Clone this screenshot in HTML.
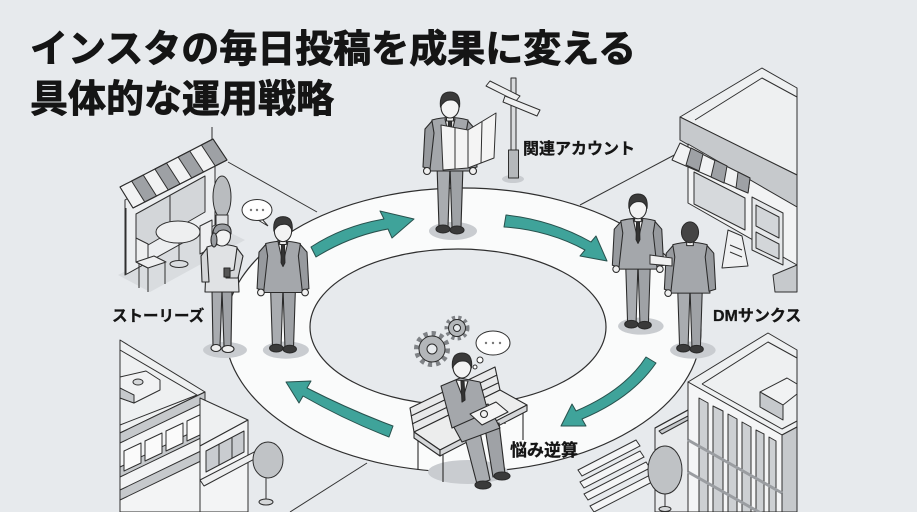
<!DOCTYPE html>
<html><head><meta charset="utf-8">
<style>
html,body{margin:0;padding:0;background:#e7eaed;}
svg{display:block;}
.t{font-family:"Liberation Sans","Noto Sans CJK JP",sans-serif;font-weight:bold;fill:#151515;}
.tt{stroke:#151515;stroke-width:0.9;stroke-linejoin:round;}
.tl{stroke:#151515;stroke-width:0.3;}
</style></head><body>
<svg width="917" height="512" viewBox="0 0 917 512" xmlns="http://www.w3.org/2000/svg">
<defs>
<g id="man" stroke="#2a2a2a" stroke-width="1.1" stroke-linejoin="round">
 <ellipse cx="3" cy="-2" rx="24" ry="9" fill="#c9ccd0" stroke="none"/>
 <polygon points="-13,-68 0,-68 -2,-6 -11,-6" fill="#a9acb0"/>
 <polygon points="0,-68 13,-68 11,-6 2,-6" fill="#9fa2a6"/>
 <ellipse cx="-7" cy="-4" rx="7" ry="4" fill="#3a3a3a"/>
 <ellipse cx="7" cy="-3" rx="7" ry="4" fill="#3a3a3a"/>
 <path d="M-18,-113 Q0,-118 18,-113 L21,-62 L-21,-62 Z" fill="#a4a7ab"/>
 <polygon points="-5,-114 5,-114 0,-92" fill="#f4f4f4"/>
 <polygon points="-1.5,-112 1.5,-112 2,-93 0,-89 -2,-93" fill="#333"/>
 <polygon points="-18,-112 -25,-104 -27,-66 -20,-64 -16,-100" fill="#979a9e"/>
 <polygon points="18,-112 25,-104 27,-66 20,-64 16,-100" fill="#979a9e"/>
 <circle cx="-23" cy="-62" r="3.5" fill="#f0f0f0"/>
 <circle cx="23" cy="-62" r="3.5" fill="#f0f0f0"/>
 <rect x="-3.5" y="-118" width="7" height="6" fill="#f0f0f0"/>
 <ellipse cx="0" cy="-126" rx="9" ry="11" fill="#f3f3f3"/>
 <path d="M-9.5,-126 Q-11,-141 0,-141 Q11,-141 9.5,-126 Q7,-134 0,-133 Q-6,-133 -9.5,-126 Z" fill="#3a3a3a"/>
</g>
<g id="manb" stroke="#2a2a2a" stroke-width="1.1" stroke-linejoin="round">
 <ellipse cx="3" cy="-2" rx="24" ry="9" fill="#c9ccd0" stroke="none"/>
 <polygon points="-13,-68 0,-68 -2,-6 -11,-6" fill="#a9acb0"/>
 <polygon points="0,-68 13,-68 11,-6 2,-6" fill="#9fa2a6"/>
 <ellipse cx="-7" cy="-4" rx="7" ry="4" fill="#3a3a3a"/>
 <ellipse cx="7" cy="-3" rx="7" ry="4" fill="#3a3a3a"/>
 <path d="M-18,-113 Q0,-118 18,-113 L21,-62 L-21,-62 Z" fill="#a4a7ab"/>
 <polygon points="-18,-112 -25,-104 -27,-66 -20,-64 -16,-100" fill="#979a9e"/>
 <polygon points="18,-112 25,-104 27,-66 20,-64 16,-100" fill="#979a9e"/>
 <circle cx="-23" cy="-62" r="3.5" fill="#f0f0f0"/>
 <rect x="-3.5" y="-118" width="7" height="6" fill="#f0f0f0"/>
 <ellipse cx="0" cy="-126" rx="9" ry="11" fill="#444"/>
</g>
<g id="wom" stroke="#2a2a2a" stroke-width="1.1" stroke-linejoin="round">
 <ellipse cx="3" cy="-2" rx="22" ry="8" fill="#c9ccd0" stroke="none"/>
 <polygon points="-10,-62 0,-62 -2,-6 -9,-6" fill="#a9acb0"/>
 <polygon points="0,-62 10,-62 9,-6 2,-6" fill="#a0a3a7"/>
 <ellipse cx="-6" cy="-4" rx="5" ry="3.5" fill="#eeeeee"/>
 <ellipse cx="6" cy="-3" rx="6" ry="3.5" fill="#eeeeee"/>
 <path d="M-15,-105 Q0,-110 15,-105 L17,-60 L-17,-60 Z" fill="#e0e2e4"/>
 <polygon points="-15,-104 -21,-96 -20,-70 -13,-70" fill="#d4d6d8"/>
 <polygon points="15,-104 21,-96 16,-74 4,-74 4,-80 12,-82" fill="#d4d6d8"/>
 <rect x="2" y="-84" width="6" height="9" fill="#555"/>
 <ellipse cx="0" cy="-116" rx="8.5" ry="10" fill="#f3f3f3"/>
 <path d="M-9,-115 Q-10,-128 0,-128 Q10,-128 9,-118 Q4,-124 -3,-121 Q-6,-118 -9,-115 Z" fill="#9a9da1"/>
 <ellipse cx="-8" cy="-112" rx="3" ry="7" fill="#9a9da1"/>
</g>
</defs>

<rect width="917" height="512" fill="#e7eaed"/>

<!-- street lines -->
<g stroke="#333" stroke-width="1" fill="none">
 <line x1="228" y1="162" x2="317" y2="212"/>
 <line x1="680" y1="152" x2="580" y2="205"/>
 <line x1="367" y1="463" x2="290" y2="512"/>
</g>

<!-- ring -->
<ellipse cx="463" cy="330" rx="238" ry="142" fill="#fafbfb" stroke="#2f2f2f" stroke-width="1.2"/>
<ellipse cx="458" cy="327" rx="148" ry="78" fill="#e7eaed" stroke="#2f2f2f" stroke-width="1.2"/>

<!-- crosswalk -->
<g fill="#f4f5f6" stroke="#333" stroke-width="1">
 <polygon points="578,470 636,440 640,446 582,476"/>
 <polygon points="580,482 640,451 644,457 584,488"/>
 <polygon points="584,494 646,462 650,468 588,500"/>
 <polygon points="590,506 652,474 656,480 594,512"/>
</g>

<!-- cafe top-left -->
<g stroke="#2f2f2f" stroke-width="1" stroke-linejoin="round">
 <polygon points="118,275 215,225 245,240 150,292" fill="#d9dcdf" stroke="none"/>
 <polygon points="125,200 215,150 215,225 125,275" fill="#eceef0"/>
 <polygon points="136,214 205,176 205,212 136,252" fill="#d3d6d9"/>
 <line x1="170" y1="195" x2="170" y2="232"/>
 <polygon points="120,187 213,139 227,160 133,208" fill="#f1f2f3"/>
 <polygon points="131.6,181 143.25,175 156.5,196 144.75,202" fill="#9ea1a5"/>
 <polygon points="154.9,169 166.5,163 180,184 168.25,190" fill="#9ea1a5"/>
 <polygon points="178.1,157 189.75,151 203.5,172 191.75,178" fill="#9ea1a5"/>
 <polygon points="201.4,145 213,139 227,160 215.25,166" fill="#9ea1a5"/>
 <polygon points="120,187 213,139 227,160 133,208" fill="none"/>
 <line x1="212" y1="127" x2="212" y2="140"/>
 <line x1="126" y1="208" x2="126" y2="274"/>
 <ellipse cx="222" cy="197" rx="9" ry="21" fill="#b9bcbf"/>
 <rect x="216" y="215" width="12" height="12" fill="#e0e2e4"/>
 <polygon points="200,226 212,220 212,248 200,254" fill="#eeeff0"/>
 <line x1="202" y1="254" x2="202" y2="266"/>
 <line x1="211" y1="248" x2="211" y2="260"/>
 <line x1="179" y1="242" x2="179" y2="262"/>
 <ellipse cx="179" cy="264" rx="9" ry="3.5" fill="#d9dcdf"/>
 <ellipse cx="178" cy="232" rx="22" ry="11" fill="#eeeff0"/>
 <polygon points="136,238 148,244 148,268 136,262" fill="#eeeff0"/>
 <polygon points="136,262 148,268 166,262 154,256" fill="#eeeff0"/>
 <line x1="139" y1="264" x2="139" y2="288"/>
 <line x1="148" y1="268" x2="148" y2="292"/>
 <line x1="165" y1="263" x2="165" y2="284"/>
</g>

<!-- store top-right -->
<g stroke="#2f2f2f" stroke-width="1" stroke-linejoin="round">
 <polygon points="680,117 762,68 797,88 797,175" fill="#eef0f1"/>
 <polyline points="695,120 762,78 797,97" fill="none"/>
 <polygon points="680,117 797,175 797,207 680,140" fill="#c6c9cc"/>
 <polygon points="688,144 797,207 797,265 688,203" fill="#f2f3f4"/>
 <polygon points="694,172 745,198 745,230 694,204" fill="#d6d9dc"/>
 <polygon points="680,143 750,178 748,193 672,160" fill="#f1f2f3"/>
 <polygon points="691,148 703,154 699,171 686,165" fill="#9ea1a5"/>
 <polygon points="715,160 727,166 724,183 711,177" fill="#9ea1a5"/>
 <polygon points="738,172 750,178 748,193 736,188" fill="#9ea1a5"/>
 <polygon points="752,197 783,213 783,265 752,250" fill="#e6e8ea"/>
 <polygon points="756,205 779,217 779,238 756,226" fill="#d3d6d9"/>
 <polygon points="756,232 779,244 779,259 756,248" fill="#d3d6d9"/>
 <polygon points="722,268 728,230 742,236 748,266" fill="#f0f1f2"/>
 <line x1="730" y1="245" x2="742" y2="250"/>
 <line x1="730" y1="252" x2="742" y2="257"/>
 <polygon points="773,275 797,265 797,292 775,292" fill="#c6c9cc"/>
</g>

<!-- signpost -->
<g stroke="#2f2f2f" stroke-width="1" stroke-linejoin="round">
 <ellipse cx="513" cy="179" rx="11" ry="4" fill="#c9ccd0" stroke="none"/>
 <rect x="511" y="78" width="5" height="100" fill="#d9dbdd"/>
 <rect x="508.5" y="150" width="10" height="28" fill="#b5b8bb"/>
 <polygon points="486,86 490,81 520,96 516,101" fill="#eeeff0"/>
 <polygon points="505,96 540,110 537,116 503,102" fill="#eeeff0"/>
</g>

<!-- people -->
<use href="#wom" transform="translate(222,352)"/>
<use href="#man" transform="translate(283,352) scale(0.96)"/>
<use href="#man" transform="translate(450,233) scale(1.0)"/>
<use href="#man" transform="translate(638,328) scale(0.95)"/>
<use href="#manb" transform="translate(690,352) scale(0.95)"/>

<!-- map -->
<g stroke="#2f2f2f" stroke-width="1" stroke-linejoin="round">
 <polygon points="441,125 468,130 496,113 494,158 468,168 443,170" fill="#f4f4f4"/>
 <line x1="468" y1="130" x2="468" y2="168"/>
 <line x1="455" y1="128" x2="455" y2="169"/>
 <line x1="482" y1="122" x2="481" y2="163"/>
</g>
<!-- handshake -->
<g stroke="#2f2f2f" stroke-width="1">
 <polygon points="650,255 672,258 672,266 650,264" fill="#f0f0f0"/>
</g>

<!-- speech bubble -->
<g stroke="#2f2f2f" stroke-width="1">
 <path d="M262,219 L268,226 L258,220" fill="#fff"/>
 <ellipse cx="257" cy="210" rx="15" ry="10.5" fill="#fff"/>
 <circle cx="251" cy="210" r="1.2" fill="#777" stroke="none"/>
 <circle cx="257" cy="210" r="1.2" fill="#777" stroke="none"/>
 <circle cx="263" cy="210" r="1.2" fill="#777" stroke="none"/>
</g>

<!-- bench man -->
<g stroke="#2a2a2a" stroke-width="1.1" stroke-linejoin="round">
 <ellipse cx="468" cy="472" rx="40" ry="12" fill="#c9ccd0" stroke="none"/>
 <polygon points="410,408 495,367 500,390 414,432" fill="#e8e9ea"/>
 <line x1="411" y1="416" x2="497" y2="375"/>
 <line x1="412" y1="424" x2="498" y2="383"/>
 <line x1="418" y1="438" x2="418" y2="470"/>
 <line x1="443" y1="455" x2="443" y2="482"/>
 <line x1="523" y1="408" x2="523" y2="440"/>
 <line x1="505" y1="398" x2="505" y2="424"/>
 <polygon points="414,432 500,390 527,405 440,450" fill="#eceded"/>
 <polygon points="414,432 440,450 440,456 414,438" fill="#d5d7d9"/>
 <polygon points="440,450 527,405 527,411 440,456" fill="#d5d7d9"/>
 <polygon points="465,438 480,432 490,480 477,484" fill="#a9acb0"/>
 <polygon points="485,428 499,423 505,474 493,477" fill="#9fa2a6"/>
 <ellipse cx="483" cy="485" rx="8" ry="4" fill="#3a3a3a"/>
 <ellipse cx="502" cy="476" rx="8" ry="4" fill="#3a3a3a"/>
 <polygon points="450,420 488,404 500,428 462,442" fill="#a9acb0"/>
 <polygon points="441,386 460,378 480,382 488,412 452,428" fill="#a4a7ab"/>
 <polygon points="456,380 468,381 463,398" fill="#f4f4f4"/>
 <polygon points="461,381 464,381 465,400 462,402" fill="#333"/>
 <polygon points="470,414 496,402 508,412 482,425" fill="#f4f4f4"/>
 <circle cx="484" cy="414" r="3.5" fill="#f0f0f0"/>
 <ellipse cx="462" cy="367" rx="9" ry="11" fill="#f3f3f3"/>
 <path d="M452.5,368 Q451,353 462,353 Q473,353 471.5,368 Q469,360 462,361 Q456,361 452.5,368 Z" fill="#3a3a3a"/>
</g>

<!-- gears -->
<g stroke="#2a2a2a" stroke-width="1">
 <circle cx="432" cy="349" r="15" fill="none" stroke="#7f8286" stroke-width="6" stroke-dasharray="4 3.8"/>
 <circle cx="432" cy="349" r="13" fill="#b3b6b9"/>
 <circle cx="432" cy="349" r="5" fill="#e7eaed"/>
 <circle cx="457" cy="328" r="10" fill="none" stroke="#7f8286" stroke-width="5" stroke-dasharray="3 3"/>
 <circle cx="457" cy="328" r="8.5" fill="#b3b6b9"/>
 <circle cx="457" cy="328" r="3.5" fill="#e7eaed"/>
</g>
<!-- thought bubble -->
<g stroke="#2f2f2f" stroke-width="1" fill="#fff">
 <ellipse cx="493" cy="343" rx="17" ry="12"/>
 <circle cx="480" cy="360" r="3"/>
 <circle cx="475" cy="367" r="2"/>
 <circle cx="486" cy="343" r="1.2" fill="#777" stroke="none"/>
 <circle cx="493" cy="343" r="1.2" fill="#777" stroke="none"/>
 <circle cx="500" cy="343" r="1.2" fill="#777" stroke="none"/>
</g>

<!-- arrows -->
<g fill="#3fa39a" stroke="#28514d" stroke-width="1" stroke-linejoin="round">
 <path d="M311,247 Q343,226 384,219 L380,211 L414,219 L392,238 L388,229 Q350,236 316,257 Z"/>
 <path d="M506,215 Q552,220 591,242 L596,236 L607,261 L580,256 L585,250 Q548,230 504,227 Z"/>
 <path d="M646,357 Q625,390 576,411 L572,404 L561,426 L586,426 L582,419 Q632,398 656,363 Z"/>
 <path d="M393,426 Q350,410 307,388 L311,381 L286,382 L299,403 L303,396 Q345,420 389,437 Z"/>
</g>

<!-- bottom-right building -->
<g stroke="#2f2f2f" stroke-width="1" stroke-linejoin="round">
 <polygon points="655,428 688,410 688,512 655,512" fill="#e8eaec"/>
 <polyline points="655,428 688,410" fill="none"/>
 <polygon points="659,431 688,416 688,420 662,434" fill="#c6c9cc"/>
 <polygon points="688,382 768,333 797,350 797,427 782,435" fill="#eef0f1"/>
 <polyline points="702,384 768,342 797,358" fill="none"/>
 <polyline points="702,384 782,429 797,421" fill="none"/>
 <polygon points="760,392 787,378 797,384 797,394 783,405" fill="#f1f2f3"/>
 <polygon points="760,392 783,405 783,420 760,407" fill="#c6c9cc"/>
 <polygon points="688,382 782,435 782,512 688,512" fill="#f4f5f6"/>
 <polygon points="782,435 797,427 797,512 782,512" fill="#c6c9cc"/>
 <g fill="#cdd0d3">
  <polygon points="699,398 708,403 708,512 699,512"/>
  <polygon points="713,406 723,411 723,512 713,512"/>
  <polygon points="728,414 737,419 737,512 728,512"/>
  <polygon points="742,422 751,427 751,512 742,512"/>
  <polygon points="756,430 764,434 764,512 756,512"/>
  <polygon points="769,437 776,441 776,512 769,512"/>
 </g>
 <line x1="688" y1="440" x2="782" y2="493" stroke="#9a9da1" stroke-width="3"/>
 <line x1="688" y1="472" x2="782" y2="525" stroke="#9a9da1" stroke-width="3"/>
 <ellipse cx="665" cy="470" rx="17" ry="24" fill="#bfc2c5"/>
 <line x1="665" y1="494" x2="665" y2="508"/>
 <ellipse cx="665" cy="509" rx="6" ry="2.5" fill="#d5d7d9"/>
</g>

<!-- bottom-left building -->
<g stroke="#2f2f2f" stroke-width="1" stroke-linejoin="round">
 <polygon points="120,340 205,392 120,433" fill="#eef0f1"/>
 <polyline points="120,350 197,395 120,425" fill="none"/>
 <polygon points="120,377 146,371 160,380 160,390 134,403 120,398" fill="#f1f2f3"/>
 <polygon points="120,388 134,395 134,403 120,398" fill="#c6c9cc"/>
 <ellipse cx="138" cy="382" rx="5" ry="3" fill="#d5d7d9"/>
 <polygon points="120,433 205,392 205,512 120,512" fill="#f3f4f5"/>
 <polygon points="120,433 205,392 205,402 120,443" fill="#c6c9cc"/>
 <polygon points="120,467 205,426 205,436 120,477" fill="#c6c9cc"/>
 <g fill="#fafafa">
  <polygon points="124,451 141,443 141,463 124,471"/>
  <polygon points="145,441 162,433 162,453 145,461"/>
  <polygon points="166,431 183,423 183,443 166,451"/>
  <polygon points="187,421 202,414 202,434 187,441"/>
 </g>
 <polygon points="120,490 205,449 205,459 120,500" fill="#c6c9cc"/>
 <polygon points="200,398 248,420 200,446" fill="#eef0f1"/>
 <polygon points="200,446 248,420 248,512 200,512" fill="#f3f4f5"/>
 <polygon points="206,451 244,431 244,452 206,472" fill="#c9ccd0"/>
 <line x1="219" y1="444" x2="219" y2="465"/>
 <line x1="232" y1="437" x2="232" y2="458"/>
 <polygon points="200,480 258,450 262,455 204,486" fill="#eeeff0"/>
 <ellipse cx="268" cy="460" rx="15" ry="18" fill="#c0c3c6"/>
 <line x1="266" y1="478" x2="266" y2="500"/>
 <ellipse cx="266" cy="502" rx="7" ry="3" fill="#d5d7d9"/>
</g>

<!-- labels -->
<text class="t tl" x="523" y="154" font-size="16">関連アカウント</text>
<text class="t tl" x="112" y="321" font-size="15.5">ストーリーズ</text>
<text class="t tl" x="713" y="321" font-size="16">DMサンクス</text>
<text class="t tl" x="510" y="456" font-size="17">悩み逆算</text>

<!-- title -->
<text class="t tt" x="30" y="62" font-size="38">インスタの毎日投稿を成果に変える</text>
<text class="t tt" x="30" y="112" font-size="38">具体的な運用戦略</text>
</svg>
</body></html>
